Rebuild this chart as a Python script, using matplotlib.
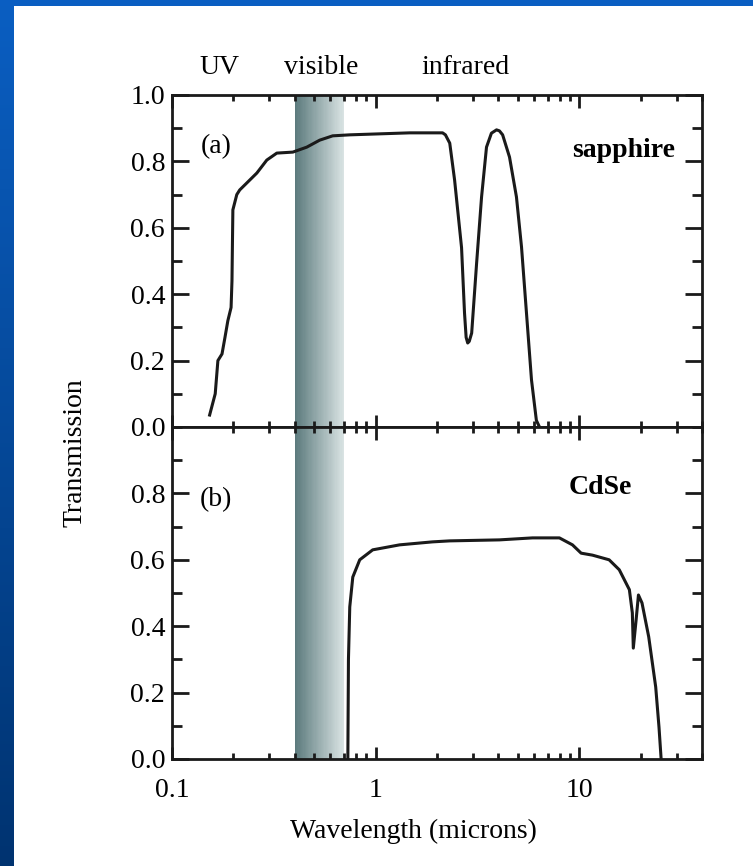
import numpy as np
import matplotlib
matplotlib.use("Agg")
import matplotlib.pyplot as plt
from matplotlib.ticker import LogLocator, FixedLocator, MultipleLocator, NullFormatter

plt.rcParams['font.family'] = ['Liberation Serif', 'DejaVu Serif']

# sapphire transmission (panel a)
sapphire_wl = [0.153, 0.163, 0.168, 0.176, 0.182, 0.188, 0.195, 0.197, 0.198, 0.199,
               0.208, 0.215, 0.241, 0.261, 0.292, 0.327, 0.392, 0.459, 0.531, 0.615,
               0.746, 1.47, 2.13, 2.20, 2.31, 2.44, 2.64, 2.73, 2.78, 2.83, 2.88, 2.96,
               3.13, 3.31, 3.50, 3.70, 3.92, 4.05, 4.20, 4.54, 4.91, 5.20, 5.50, 5.82,
               6.15, 6.37]
sapphire_T = [0.036, 0.10, 0.20, 0.22, 0.27, 0.32, 0.36, 0.44, 0.55, 0.654,
              0.70, 0.714, 0.744, 0.765, 0.804, 0.825, 0.828, 0.843, 0.864, 0.877,
              0.88, 0.886, 0.886, 0.88, 0.855, 0.744, 0.54, 0.343, 0.27, 0.253, 0.258, 0.283,
              0.494, 0.693, 0.843, 0.885, 0.895, 0.892, 0.88, 0.813, 0.693, 0.542, 0.343, 0.142,
              0.02, 0.0]

# CdSe transmission (panel b)
cdse_wl = [0.730, 0.735, 0.746, 0.772, 0.835, 0.967, 1.31, 1.90, 2.31, 4.05, 5.89,
           7.98, 9.25, 10.2, 11.6, 14.0, 15.7, 17.6, 18.2, 18.4, 19.0, 19.5, 20.3,
           21.9, 23.7, 24.6, 25.2]
cdse_T = [0.0, 0.30, 0.458, 0.548, 0.60, 0.63, 0.645, 0.654, 0.657, 0.66, 0.666,
          0.666, 0.645, 0.62, 0.614, 0.60, 0.57, 0.51, 0.44, 0.334, 0.42, 0.494, 0.47,
          0.368, 0.217, 0.096, 0.0]

visible_band = (0.4, 0.7)
top_yticks = [0.0, 0.2, 0.4, 0.6, 0.8, 1.0]
bottom_yticks = [0.0, 0.2, 0.4, 0.6, 0.8]
region_names = ["UV", "visible", "infrared"]

W, H = 753, 866
fig = plt.figure(figsize=(W / 100, H / 100), dpi=100)
fig.patch.set_facecolor('white')

# blue frame on left and top
left_strip = fig.add_axes([0, 0, 14 / W, 1])
grad = np.linspace(0, 1, 256).reshape(-1, 1)
c_top = np.array([0.04, 0.37, 0.76])
c_bot = np.array([0.0, 0.20, 0.44])
img = c_top[None, None, :] * (1 - grad[:, :, None]) + c_bot[None, None, :] * grad[:, :, None]
left_strip.imshow(img, aspect='auto', extent=[0, 1, 0, 1])
left_strip.axis('off')
top_strip = fig.add_axes([0, 1 - 6 / H, 1, 6 / H])
top_strip.set_facecolor((0.04, 0.37, 0.76))
top_strip.set_xticks([])
top_strip.set_yticks([])
for s in top_strip.spines.values():
    s.set_visible(False)

x0, x1 = 172 / W, 702 / W
ax_top = fig.add_axes([x0, 1 - 427 / H, x1 - x0, (427 - 95) / H])
ax_bot = fig.add_axes([x0, 1 - 759 / H, x1 - x0, (759 - 427) / H])

line_col = '#1a1a1a'
dark = np.array([0.36, 0.48, 0.49])
light = np.array([0.85, 0.89, 0.89])

for ax in (ax_top, ax_bot):
    ax.set_xscale('log')
    ax.set_xlim(0.1, 40)
    ax.set_ylim(0, 1.0)
    # gradient shading for the visible band
    edges = np.logspace(np.log10(visible_band[0]), np.log10(visible_band[1]), 41)
    for i in range(40):
        t = i / 39
        ax.axvspan(edges[i], edges[i + 1], color=dark * (1 - t) + light * t, lw=0, zorder=0)
    for s in ax.spines.values():
        s.set_linewidth(2.0)
        s.set_color(line_col)
    ax.xaxis.set_major_locator(LogLocator(base=10, numticks=10))
    ax.xaxis.set_minor_locator(LogLocator(base=10, subs=np.arange(2, 10), numticks=20))
    ax.xaxis.set_minor_formatter(NullFormatter())
    ax.yaxis.set_minor_locator(MultipleLocator(0.1))
    ax.tick_params(which='both', direction='in', top=True, right=True, color=line_col, width=2.0)
    ax.tick_params(axis='y', which='major', length=12, labelsize=20, pad=5)
    ax.tick_params(axis='y', which='minor', length=7)
    ax.tick_params(axis='x', which='major', length=9, labelsize=20, pad=14)
    ax.tick_params(axis='x', which='minor', length=4)

ax_top.plot(sapphire_wl, sapphire_T, color=line_col, lw=2.2)
ax_top.set_yticks(top_yticks)
ax_top.set_yticklabels([f"{v:.1f}" for v in top_yticks])
ax_top.tick_params(axis='x', labelbottom=False)
ax_top.text(0.083, 0.845, "(a)", transform=ax_top.transAxes, fontsize=20, ha='center', va='center')
ax_top.text(0.95, 0.833, "sapphire", transform=ax_top.transAxes, fontsize=20,
            fontweight='bold', ha='right', va='center')

ax_bot.plot(cdse_wl, cdse_T, color=line_col, lw=2.2)
ax_bot.set_yticks(bottom_yticks)
ax_bot.set_yticklabels([f"{v:.1f}" for v in bottom_yticks])
ax_bot.set_xticks([0.1, 1, 10])
ax_bot.set_xticklabels(["0.1", "1", "10"])
ax_bot.text(0.083, 0.78, "(b)", transform=ax_bot.transAxes, fontsize=20, ha='center', va='center')
ax_bot.text(0.808, 0.817, "CdSe", transform=ax_bot.transAxes, fontsize=20,
            fontweight='bold', ha='center', va='center')

# region names above the plot
for name, xpx in zip(region_names, [219, 321, 465]):
    fig.text(xpx / W, 1 - 68 / H, name, fontsize=20, ha='center', va='center')

fig.text(75 / W, 1 - 453 / H, "Transmission", fontsize=20, rotation=90, ha='center', va='center')
fig.text(413 / W, 1 - 831 / H, "Wavelength (microns)", fontsize=20, ha='center', va='center')

fig.savefig("out.png", dpi=100)
